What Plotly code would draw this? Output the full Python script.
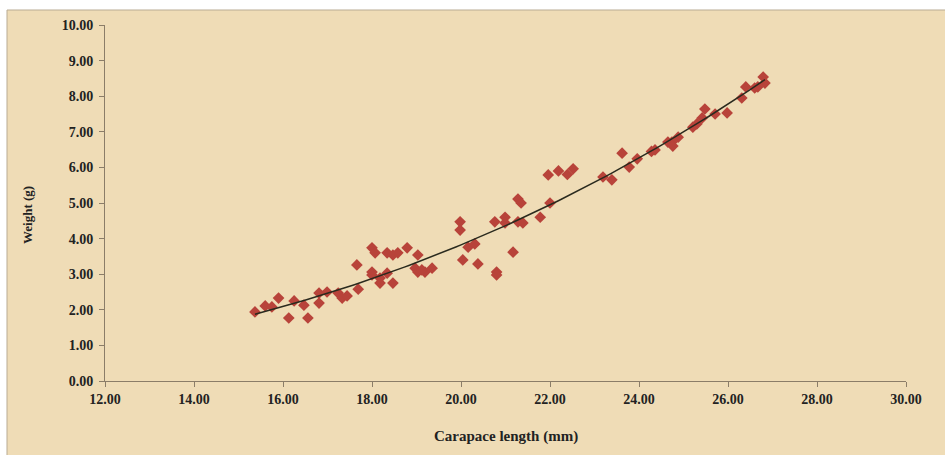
import numpy as np
import plotly.graph_objects as go

# Carapace length (mm)
length_mm = [15.37, 15.60, 15.75, 15.90, 16.13, 16.25, 16.47, 16.56, 16.81, 16.81,
             16.99, 17.24, 17.33, 17.44, 17.69, 17.66, 18.00, 18.07, 18.34, 18.47,
             18.58, 18.79, 19.03, 18.00, 18.00, 18.18, 18.18, 18.34, 18.47, 18.97,
             19.03, 19.19, 19.35, 19.12, 19.98, 19.98, 20.04, 20.16, 20.31, 20.38,
             20.76, 20.99, 20.99, 20.80, 20.80, 21.17, 21.28, 21.39, 21.28, 21.35,
             21.78, 22.00, 21.96, 22.19, 22.39, 22.52, 23.19, 23.39, 23.62, 23.78,
             23.96, 24.28, 24.36, 24.65, 24.74, 24.76, 24.88, 25.21, 25.30, 25.42,
             25.48, 25.71, 25.98, 26.31, 26.40, 26.60, 26.67, 26.79, 26.83]
# Weight (g)
weight_g = [1.94, 2.11, 2.08, 2.33, 1.77, 2.25, 2.13, 1.77, 2.19, 2.47,
            2.50, 2.47, 2.33, 2.39, 2.58, 3.26, 3.74, 3.60, 3.60, 3.54,
            3.60, 3.74, 3.54, 3.06, 2.98, 2.89, 2.75, 3.03, 2.75, 3.17,
            3.06, 3.06, 3.17, 3.12, 4.47, 4.24, 3.40, 3.76, 3.85, 3.29,
            4.47, 4.60, 4.44, 3.06, 2.98, 3.62, 4.47, 4.44, 5.11, 5.00,
            4.60, 5.00, 5.79, 5.90, 5.80, 5.96, 5.73, 5.65, 6.40, 6.01,
            6.24, 6.45, 6.49, 6.71, 6.71, 6.60, 6.85, 7.13, 7.22, 7.39,
            7.64, 7.50, 7.53, 7.95, 8.26, 8.23, 8.26, 8.54, 8.37]

x_ticks = [12, 14, 16, 18, 20, 22, 24, 26, 28, 30]
y_ticks = [0, 1, 2, 3, 4, 5, 6, 7, 8, 9, 10]

# Power trendline W = a * L^b fitted to the data (log-log least squares)
L = np.array(length_mm)
W = np.array(weight_g)
b, ln_a = np.polyfit(np.log(L), np.log(W), 1)
fit_x = np.linspace(L.min(), L.max(), 100)
fit_y = np.exp(ln_a) * fit_x ** b

BG = "#efdcb6"
FONT = "Liberation Serif"
TXT = "#222222"

fig = go.Figure()
fig.add_trace(go.Scatter(
    x=length_mm, y=weight_g, mode="markers",
    marker=dict(symbol="diamond", size=9, color="#b8433a", line=dict(width=0)),
    showlegend=False, hoverinfo="x+y"))
fig.add_trace(go.Scatter(
    x=fit_x, y=fit_y, mode="lines",
    line=dict(color="#2a2a1e", width=1.5), showlegend=False, hoverinfo="skip"))

# Background panel (whole chart area below a thin white strip)
fig.add_shape(type="rect", xref="paper", yref="paper",
              x0=(7 - 105) / 801, x1=(946 - 105) / 801,
              y0=(381 - 456) / 356, y1=(381 - 10) / 356,
              fillcolor=BG, line=dict(color="#b9ab93", width=1), layer="below")

axis_common = dict(
    showline=True, linecolor="#8b7d68", linewidth=1,
    ticks="outside", ticklen=5, tickcolor="#8b7d68",
    showgrid=False, zeroline=False,
    tickfont=dict(family=FONT, size=14, color=TXT),
)

fig.update_xaxes(range=[12, 30], tickvals=x_ticks,
                 ticktext=[f"<b>{v:.2f}</b>" for v in x_ticks], **axis_common)
fig.update_yaxes(range=[0, 10], tickvals=y_ticks, ticklabelstandoff=3,
                 ticktext=[f"<b>{v:.2f}</b>" for v in y_ticks], **axis_common)

fig.add_annotation(text="<b>Carapace length (mm)</b>", xref="paper", yref="paper",
                   x=0.5, y=(381 - 436) / 356, xanchor="center", yanchor="middle",
                   showarrow=False, font=dict(family=FONT, size=15, color=TXT))
fig.add_annotation(text="<b>Weight (g)</b>", xref="paper", yref="paper",
                   x=(27 - 105) / 801, y=(381 - 215) / 356, xanchor="center", yanchor="middle",
                   textangle=-90, showarrow=False,
                   font=dict(family=FONT, size=13, color=TXT))

fig.update_layout(
    width=945, height=455,
    margin=dict(l=105, r=39, t=25, b=74),
    paper_bgcolor="white", plot_bgcolor="rgba(0,0,0,0)",
    font=dict(family=FONT, color=TXT),
)

fig.write_html("out.html", config={"displayModeBar": False},
               post_script="document.body.style.margin='0';document.body.style.overflow='hidden';")
